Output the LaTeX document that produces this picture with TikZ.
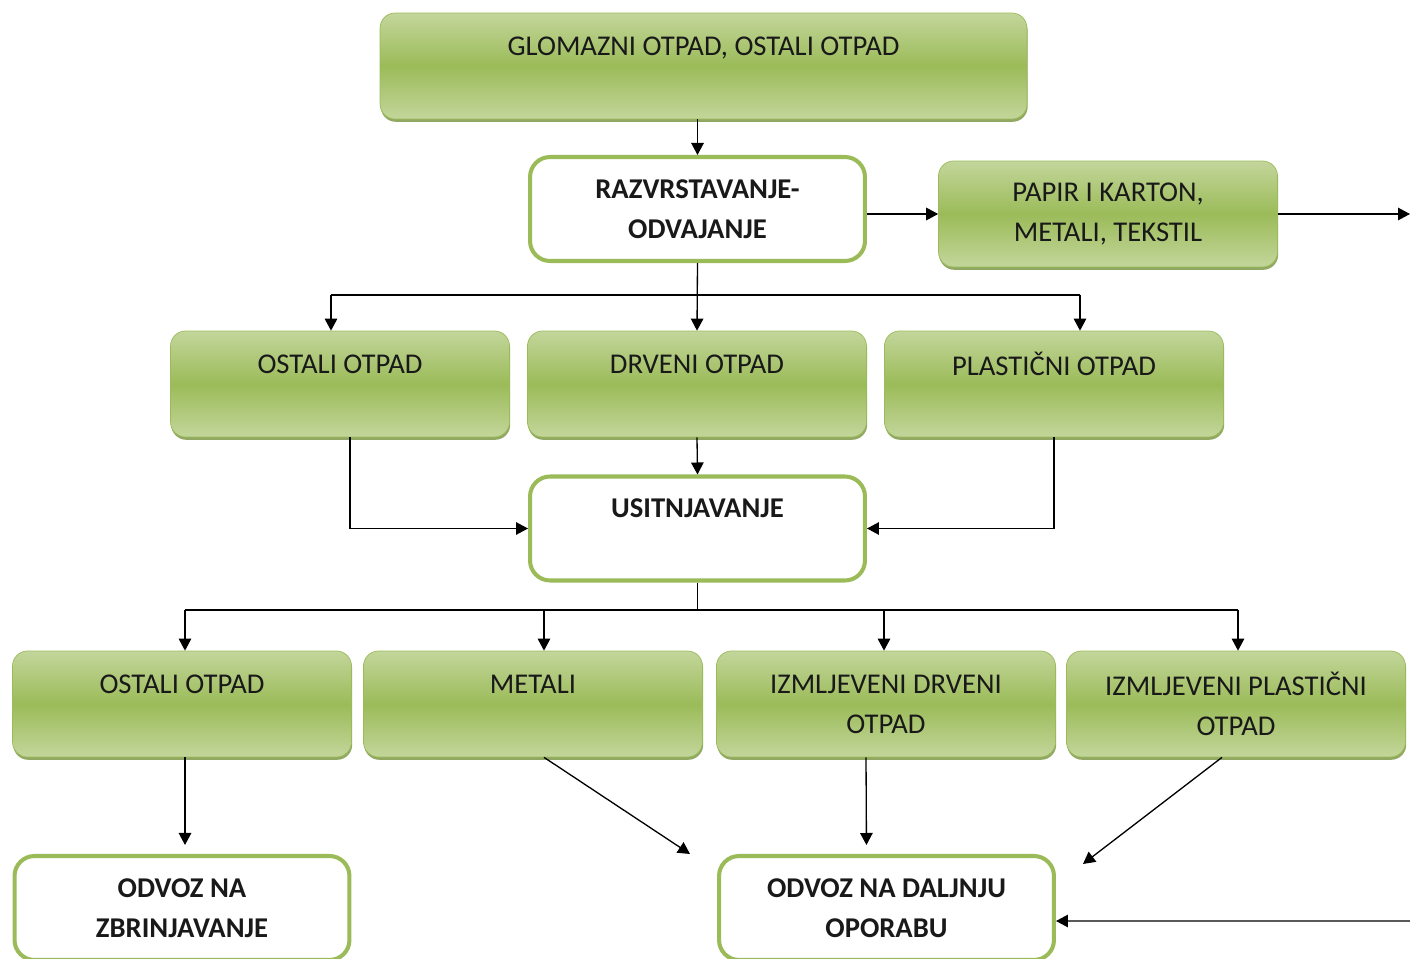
\documentclass[tikz,border=0pt]{standalone}
\usepackage{fontspec}
\setmainfont{Carlito}
\usetikzlibrary{arrows.meta,shadows}

\definecolor{svjetlozelena}{HTML}{C3D69B}
\definecolor{zelena}{HTML}{9BBB59}
\definecolor{tamnozelena}{HTML}{76923C}

\tikzset{
  zeleni/.style={rounded corners=0.3cm, draw=zelena, line width=0.4pt,
    top color=svjetlozelena, bottom color=svjetlozelena, middle color=zelena,
    drop shadow={shadow xshift=0.4pt, shadow yshift=-1.6pt, fill=tamnozelena, opacity=0.8},
    minimum width=6.78cm, minimum height=2.12cm, inner sep=0pt, align=center,
    font=\fontsize{16.3pt}{22.7pt}\selectfont, text=black!90},
  bijeli/.style={rounded corners=0.4cm, draw=zelena, line width=2.3pt, fill=white,
    minimum width=6.7cm, minimum height=2.08cm, inner sep=0pt, align=center,
    font=\fontsize{16.3pt}{22.7pt}\selectfont\bfseries, text=black!90},
  strelica/.style={-{Triangle[length=2.4mm,width=2.5mm]}, line width=0.75pt}
}

\begin{document}
\begin{tikzpicture}[x=0.02cm, y=-0.02cm]
			%%%%% START %%%%%
			\useasboundingbox (0,0) rectangle (1410,959);

			\node[zeleni, minimum width=12.94cm] (glom) at (703.5,66) {GLOMAZNI OTPAD, OSTALI OTPAD\\~};
			\node[bijeli] (razv) at (697.5,209) {RAZVRSTAVANJE-\\ODVAJANJE};
			\node[zeleni] (papir) at (1108,214) {PAPIR I KARTON,\\METALI, TEKSTIL};

			\node[zeleni] (ostali1) at (340,384) {OSTALI OTPAD\\~};
			\node[zeleni] (drveni) at (697,384) {DRVENI OTPAD\\~};
			\node[zeleni] (plast) at (1054,384) {PLASTIČNI OTPAD\\~};

			\node[bijeli] (usitnj) at (697.5,528.5) {USITNJAVANJE\\~};

			\node[zeleni] (ostali2) at (182,704) {OSTALI OTPAD\\~};
			\node[zeleni] (metali) at (533,704) {METALI\\~};
			\node[zeleni] (izdrv) at (886,704) {IZMLJEVENI DRVENI\\OTPAD};
			\node[zeleni] (izpl) at (1236,704) {IZMLJEVENI PLASTIČNI\\OTPAD};

			\node[bijeli] (zbr) at (182,908) {ODVOZ NA\\ZBRINJAVANJE};
			\node[bijeli] (dalj) at (886.5,908) {ODVOZ NA DALJNJU\\OPORABU};

			\coordinate (izlaz) at (1410,214);
			\coordinate (ulaz) at (1410,921);
			\coordinate (grana1) at (697,295);
			\coordinate (grana2) at (701,610);

			% gornji dio
			\draw[strelica] (razv.north |- glom.south) -- (razv.north);
			\draw[strelica] (razv.east |- papir.west) -- (papir.west);
			\draw[strelica] (papir.east) -- (izlaz);

			\draw[strelica] (razv.south) -- (drveni.north);
			\draw[line width=0.75pt] ([xshift=-0.18cm]grana1 -| ostali1.north) -- ([xshift=0.52cm]grana1 -| plast.north);
			\draw[strelica] ([xshift=-0.18cm]grana1 -| ostali1.north) -- ([xshift=-0.18cm]ostali1.north);
			\draw[strelica] ([xshift=0.52cm]grana1 -| plast.north) -- ([xshift=0.52cm]plast.north);

			\draw[strelica] (drveni.south) -- (usitnj.north);
			\draw[strelica] ([xshift=0.2cm]ostali1.south) |- (usitnj.west);
			\draw[strelica] (plast.south) |- (usitnj.east);

			% donji dio
			\draw[line width=0.75pt] (usitnj.south) -- (usitnj.south |- grana2);
			\draw[line width=0.75pt] ([xshift=0.06cm]grana2 -| ostali2.north) -- ([xshift=0.04cm]grana2 -| izpl.north);
			\draw[strelica] ([xshift=0.06cm]grana2 -| ostali2.north) -- ([xshift=0.06cm]ostali2.north);
			\draw[strelica] ([xshift=0.22cm]grana2 -| metali.north) -- ([xshift=0.22cm]metali.north);
			\draw[strelica] ([xshift=-0.04cm]grana2 -| izdrv.north) -- ([xshift=-0.04cm]izdrv.north);
			\draw[strelica] ([xshift=0.04cm]grana2 -| izpl.north) -- ([xshift=0.04cm]izpl.north);

			\draw[strelica, shorten >=0.18cm] ([xshift=0.06cm]ostali2.south) -- ([xshift=0.06cm]zbr.north);
			\draw[strelica] ([xshift=0.22cm]metali.south) -- ([xshift=-0.54cm]dalj.north west);
			\draw[strelica, shorten >=0.18cm] ([xshift=-0.4cm]izdrv.south) -- ([xshift=-0.4cm]dalj.north);
			\draw[strelica] ([xshift=-0.28cm]izpl.south) -- ([shift={(0.54cm,-0.2cm)}]dalj.north east);
			\draw[strelica] (ulaz) -- ([yshift=-0.26cm]dalj.east);
			%%%%% END %%%%%
\end{tikzpicture}
\end{document}
